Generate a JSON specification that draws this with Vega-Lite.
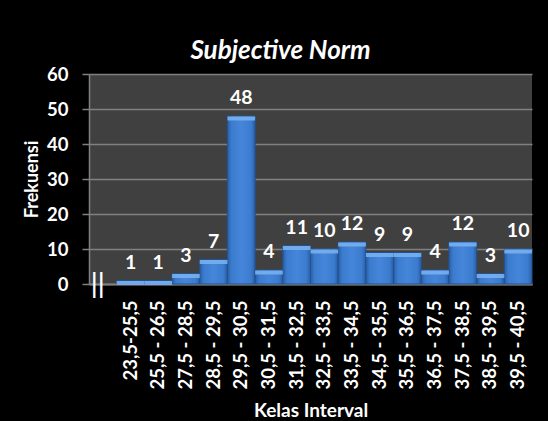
{
  "$schema": "https://vega.github.io/schema/vega-lite/v6.json",
  "width": 443,
  "height": 210,
  "autosize": {"type": "none"},
  "padding": {"left": 89, "top": 74, "right": 16, "bottom": 137},
  "background": "black",
  "title": {
    "text": "Subjective Norm",
    "color": "white",
    "font": "Lato",
    "fontSize": 26,
    "fontWeight": "bold",
    "fontStyle": "italic",
    "anchor": "middle",
    "dx": -30,
    "offset": 1
  },
  "config": {
    "font": "Lato",
    "view": {"fill": "#404040", "stroke": null},
    "axis": {"labelColor": "white", "titleColor": "white", "labelFontWeight": "bold", "titleFontWeight": "bold"}
  },
  "data": {
    "values": [
      {"kelas": "23,5-25,5", "f": 1},
      {"kelas": "25,5 - 26,5", "f": 1},
      {"kelas": "27,5 - 28,5", "f": 3},
      {"kelas": "28,5 - 29,5", "f": 7},
      {"kelas": "29,5 - 30,5", "f": 48},
      {"kelas": "30,5 - 31,5", "f": 4},
      {"kelas": "31,5 - 32,5", "f": 11},
      {"kelas": "32,5 - 33,5", "f": 10},
      {"kelas": "33,5 - 34,5", "f": 12},
      {"kelas": "34,5 - 35,5", "f": 9},
      {"kelas": "35,5 - 36,5", "f": 9},
      {"kelas": "36,5 - 37,5", "f": 4},
      {"kelas": "37,5 - 38,5", "f": 12},
      {"kelas": "38,5 - 39,5", "f": 3},
      {"kelas": "39,5 - 40,5", "f": 10}
    ]
  },
  "encoding": {
    "x": {
      "field": "kelas",
      "type": "ordinal",
      "sort": null,
      "scale": {
        "domain": [" ", "23,5-25,5", "25,5 - 26,5", "27,5 - 28,5", "28,5 - 29,5", "29,5 - 30,5", "30,5 - 31,5", "31,5 - 32,5", "32,5 - 33,5", "33,5 - 34,5", "34,5 - 35,5", "35,5 - 36,5", "36,5 - 37,5", "37,5 - 38,5", "38,5 - 39,5", "39,5 - 40,5"],
        "paddingInner": 0,
        "paddingOuter": 0
      },
      "axis": {
        "title": "Kelas Interval",
        "titleFontSize": 19,
        "titlePadding": 13,
        "labelAngle": -90,
        "labelFontSize": 18.5,
        "labelPadding": 16,
        "ticks": false,
        "tickSize": 0,
        "domainColor": "#808080",
        "domainWidth": 2
      }
    },
    "y": {
      "field": "f",
      "type": "quantitative",
      "scale": {"domain": [0, 60], "nice": false},
      "axis": {
        "title": "Frekuensi",
        "titleFontSize": 18,
        "titlePadding": 5,
        "values": [0, 10, 20, 30, 40, 50, 60],
        "labelFontSize": 18.5,
        "labelPadding": 14,
        "tickSize": 7,
        "tickColor": "#808080",
        "tickWidth": 1.5,
        "gridColor": "#808080",
        "gridWidth": 1.5,
        "domainColor": "#808080",
        "domainWidth": 1.5
      }
    }
  },
  "layer": [
    {
      "mark": {
        "type": "bar",
        "stroke": "#22528f",
        "strokeWidth": 1,
        "color": {
          "gradient": "linear",
          "x1": 0, "y1": 0, "x2": 1, "y2": 0,
          "stops": [
            {"offset": 0, "color": "#2a5ea6"},
            {"offset": 0.15, "color": "#3b7ccf"},
            {"offset": 0.5, "color": "#4586da"},
            {"offset": 0.85, "color": "#3b7ccf"},
            {"offset": 1, "color": "#2a5ea6"}
          ]
        }
      }
    },
    {
      "mark": {"type": "tick", "color": "#78b0ee", "thickness": 4, "yOffset": 2.5, "bandSize": 22, "opacity": 0.9}
    },
    {
      "mark": {"type": "text", "color": "white", "fontWeight": "bold", "fontSize": 19.5, "baseline": "middle", "dy": -18},
      "encoding": {"text": {"field": "f", "type": "quantitative"}}
    },
    {
      "data": {"values": [{"kelas": " ", "f": 0, "s": "||"}]},
      "mark": {"type": "text", "color": "white", "fontSize": 27, "baseline": "middle", "dx": -5, "font": "Liberation Sans"},
      "encoding": {"text": {"field": "s"}}
    }
  ]
}
